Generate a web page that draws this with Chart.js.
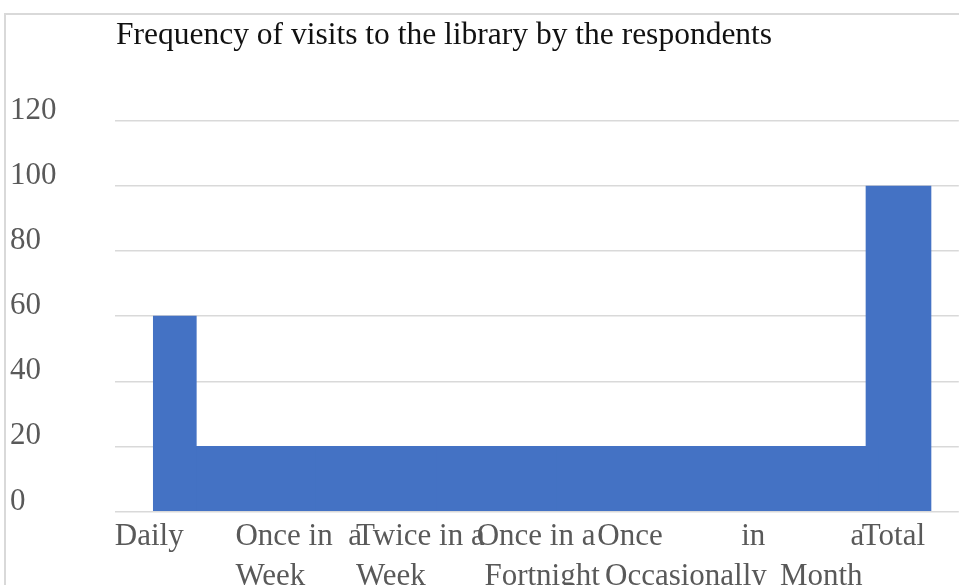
<!DOCTYPE html>
<html>
<head>
<meta charset="utf-8">
<script src="https://cdn.jsdelivr.net/npm/chart.js@4/dist/chart.umd.min.js"></script>
<style>
  html,body{margin:0;padding:0;background:#fff;overflow:hidden;width:959px;height:585px;}
  #frame{position:absolute;left:4px;top:13px;width:1000px;height:700px;border-left:2px solid #d9d9d9;border-top:2px solid #d9d9d9;}
  #title{position:absolute;left:116px;top:16px;font-family:"Liberation Serif",serif;font-size:31.5px;color:#111;white-space:nowrap;}
  #wrap{position:absolute;left:0;top:0;width:982px;height:640px;}
</style>
</head>
<body>
<div id="frame"></div>
<div id="wrap"><canvas id="chart"></canvas></div>
<div id="title">Frequency of visits to the library by the respondents</div>
<script>
// data
const categories = ['Daily','Once in a Week','Twice in a Week','Once in a Fortnight','Occasionally','Once in a Month','Total'];
const visits = [60,20,20,20,20,20,100];
const yTicks = [0,20,40,60,80,100,120];
// the axis labels as they are wrapped (and spaced) in the picture
const tickLines = [
  'Daily',
  ['Once in  a','Week'],
  ['Twice in a','Week'],
  ['Once in a',' Fortnight'],
  ['Once',' Occasionally'],
  ['   in           a','        Month'],
  '   Total'
];

const blue = '#4472c4';
const grey = '#595959';
const serif = '"Liberation Serif", "Times New Roman", serif';

// three groups so each can have its own width
function pick(idx){ return visits.map((v,i)=> idx.includes(i) ? v : null); }
const groups = [
  {data: pick([0]), w: 43},
  {data: pick([1,2,3,4,5]), w: 200},
  {data: pick([6]), w: 65}
];

new Chart(document.getElementById('chart'), {
  type: 'bar',
  data: {
    labels: tickLines,
    datasets: groups.map(g => ({
      data: g.data, backgroundColor: blue, borderWidth: 0,
      barThickness: g.w, grouped: false, skipNull: true
    }))
  },
  options: {
    responsive: true, maintainAspectRatio: false, animation: false,
    layout: {padding: {left: 10, top: 121, bottom: 46, right: 0}},
    plugins: {legend: {display: false}, tooltip: {enabled: false}, title: {display: false}},
    scales: {
      x: {
        grid: {display: false}, border: {display: false},
        ticks: {color: grey, font: {family: serif, size: 31, lineHeight: 1.3}, align: 'start', labelOffset: -60,
                maxRotation: 0, autoSkip: false, padding: -3}
      },
      y: {
        min: yTicks[0], max: yTicks[yTicks.length-1],
        afterBuildTicks: s => { s.ticks = yTicks.map(v => ({value: v})); },
        grid: {color: '#d9d9d9', lineWidth: 1.5, drawTicks: false}, border: {display: false},
        ticks: {color: grey, font: {family: serif, size: 31}, crossAlign: 'far', padding: 29, labelOffset: -10}
      }
    }
  }
});
</script>
</body>
</html>
